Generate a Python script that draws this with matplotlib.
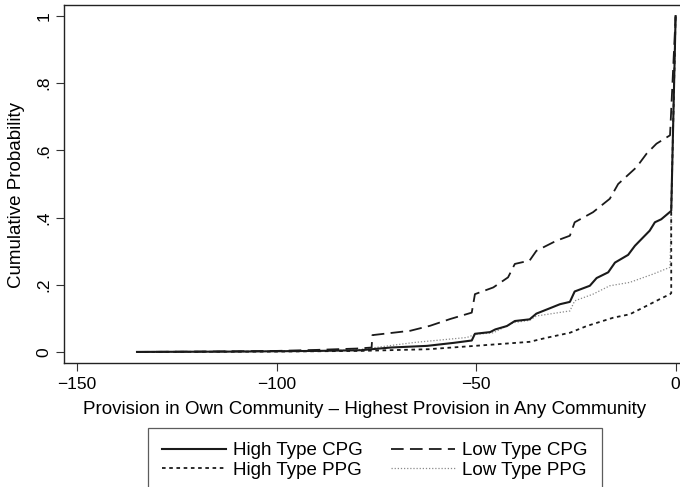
import matplotlib
matplotlib.use("Agg")
import matplotlib.pyplot as plt
from matplotlib.lines import Line2D

plt.rcParams['font.family'] = ['Liberation Sans', 'DejaVu Sans']

# High Type CPG (solid)
hcpg_x = [-135, -110, -90, -79, -71.5, -62.3, -55.6, -51.1, -50.3, -46.5, -45.2, -42.3, -40.3,
          -36.6, -34.9, -31.1, -29, -26.5, -25.3, -21.5, -19.8, -16.9, -15.2, -11.9, -10.2,
          -6.5, -5.2, -3.6, -1.1, 0]
hcpg_y = [0.0, 0.001, 0.003, 0.005, 0.013, 0.018, 0.027, 0.034, 0.054, 0.059, 0.067, 0.077, 0.092,
          0.097, 0.114, 0.132, 0.142, 0.149, 0.180, 0.197, 0.220, 0.237, 0.266, 0.289, 0.316,
          0.361, 0.386, 0.395, 0.42, 1.0]

# Low Type CPG (dashed)
lcpg_x = [-135, -120, -100, -90, -80, -76.2, -76, -66.5, -61.5, -56.5, -51.1, -50.3, -45.7, -42,
          -40.3, -36.6, -34.9, -29.9, -26.5, -25.3, -20.7, -16.5, -14.4, -9.8, -7.3, -4.8, -1.4, 0]
lcpg_y = [0.0, 0.001, 0.003, 0.006, 0.010, 0.013, 0.05, 0.063, 0.078, 0.098, 0.117, 0.172, 0.192, 0.222,
          0.262, 0.272, 0.301, 0.331, 0.346, 0.386, 0.416, 0.456, 0.50, 0.55, 0.59, 0.62, 0.645, 1.0]

# High Type PPG (dotted)
hppg_x = [-135, -100, -79, -62, -45.7, -36.6, -32.4, -26.5, -22.3, -15.6, -11.5, -7.3, -4, -1.4,
          -1.1, -1.1, 0]
hppg_y = [0.0, 0.001, 0.003, 0.008, 0.022, 0.03, 0.042, 0.057, 0.077, 0.102, 0.112, 0.137, 0.157, 0.172,
          0.175, 0.42, 1.0]

# Low Type PPG (fine gray dotted)
lppg_x = [-135, -110, -90, -80, -75.3, -65.6, -52.3, -50.3, -45.7, -40.7, -36.6, -34.9, -26.5, -25.3,
          -20.7, -16.5, -11.5, -5.6, -1.4, 0]
lppg_y = [0.0, 0.001, 0.003, 0.006, 0.013, 0.028, 0.043, 0.052, 0.057, 0.087, 0.094, 0.107, 0.122, 0.152,
          0.172, 0.197, 0.207, 0.232, 0.252, 1.0]

xticks = [-150, -100, -50, 0]
xtick_labels = ['\u2212150', '\u2212100', '\u221250', '0']
yticks = [0, 0.2, 0.4, 0.6, 0.8, 1.0]
ytick_labels = ['0', '.2', '.4', '.6', '.8', '1']

W, H = 680, 487
fig = plt.figure(figsize=(W / 100, H / 100), dpi=100)
ax = fig.add_axes([64 / W, 1 - 363 / H, (682 - 64) / W, 358 / H])

fs_tick = 12.5
fs = 13.5
ax.plot(lppg_x, lppg_y, color='#8a8a8a', lw=0.9, linestyle=(0, (1, 1.5)), label='Low Type PPG')
ax.plot(hppg_x, hppg_y, color='#1a1a1a', lw=1.3, linestyle=(0, (2, 2)), label='High Type PPG')
ax.plot(lcpg_x, lcpg_y, color='#1a1a1a', lw=1.3, linestyle=(0, (7, 3.5)), label='Low Type CPG')
ax.plot(hcpg_x, hcpg_y, color='#1a1a1a', lw=1.5, linestyle='-', label='High Type CPG')

ax.set_xlim(-153.3, 1.6)
ax.set_ylim(-0.033, 1.033)
ax.set_xticks(xticks)
ax.set_xticklabels(xtick_labels, fontsize=fs_tick)
ax.set_yticks(yticks)
ax.set_yticklabels(ytick_labels, fontsize=fs_tick, rotation=90, va='center')
ax.tick_params(direction='out', length=6, width=0.8, color='#333333', pad=4)
ax.tick_params(axis='y', pad=3)
for s in ax.spines.values():
    s.set_linewidth(1.0)
    s.set_color('#222222')

ax.set_xlabel('Provision in Own Community \u2013 Highest Provision in Any Community', fontsize=fs)
ax.set_ylabel('Cumulative Probability', fontsize=fs)
ax.yaxis.set_label_coords(-0.063, 0.47)
ax.xaxis.set_label_coords(0.486, -0.105)

handles = [
    Line2D([], [], color='#1a1a1a', lw=1.5, linestyle='-'),
    Line2D([], [], color='#1a1a1a', lw=1.3, linestyle=(0, (2, 2))),
    Line2D([], [], color='#1a1a1a', lw=1.3, linestyle=(0, (7, 3.5))),
    Line2D([], [], color='#8a8a8a', lw=0.9, linestyle=(0, (1, 1.5))),
]
labels = ['High Type CPG', 'High Type PPG', 'Low Type CPG', 'Low Type PPG']
leg = fig.legend(handles, labels, ncol=2, loc='upper left',
                 bbox_to_anchor=(148 / W, 1 - 428 / H, (602 - 148) / W, 0.0),
                 mode='expand', fontsize=fs, frameon=True, fancybox=False,
                 edgecolor='#333333', handlelength=3.4, handletextpad=0.4,
                 labelspacing=0.12, borderpad=0.75, columnspacing=1.5, borderaxespad=0)
leg.get_frame().set_linewidth(0.9)

fig.savefig('out.png', dpi=100)
